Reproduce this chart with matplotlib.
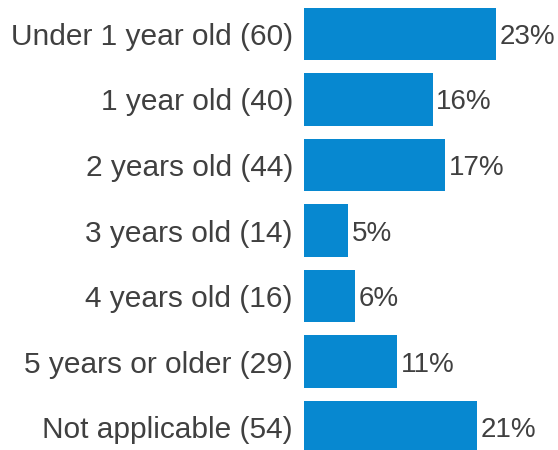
import matplotlib.pyplot as plt

categories = ["Under 1 year old (60)", "1 year old (40)", "2 years old (44)",
              "3 years old (14)", "4 years old (16)", "5 years or older (29)",
              "Not applicable (54)"]
percent = [23.3, 15.6, 17.1, 5.4, 6.2, 11.3, 21.0]
labels = ["23%", "16%", "17%", "5%", "6%", "11%", "21%"]

plt.rcParams['font.family'] = ['Liberation Sans', 'DejaVu Sans']

fig = plt.figure(figsize=(5.58, 4.5), dpi=100)
ax = fig.add_axes([304 / 558, 0, 254 / 558, 1])

ypos = list(range(len(categories)))
bars = ax.barh(ypos, percent, height=0.8, color="#0788D0")
texts = ax.bar_label(bars, labels=labels, padding=2.5, fontsize=20, color="#404040")
for t in texts:
    t.set_va("center_baseline")

ax.set_yticks(ypos)
ax.set_yticklabels(categories, fontsize=21.5, color="#404040")
ax.tick_params(axis="y", length=0, pad=8)
ax.set_xticks([])
ax.set_xlim(0, 254 / 8.24)
ax.set_ylim(6.351, -0.519)
for s in ax.spines.values():
    s.set_visible(False)

fig.savefig("out.png", dpi=100)
